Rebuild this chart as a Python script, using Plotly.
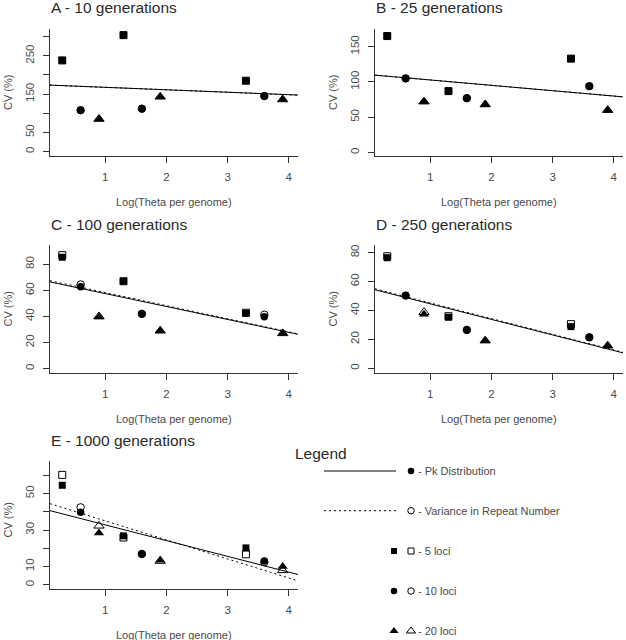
import numpy as np
import plotly.graph_objects as go

# ---------------- data ----------------
theta_5 = [0.3, 1.3, 3.3]
theta_10 = [0.6, 1.6, 3.6]
theta_20 = [0.9, 1.9, 3.9]

panel_titles = ["A - 10 generations", "B - 25 generations", "C - 100 generations",
                "D - 250 generations", "E - 1000 generations"]

# Pk distribution (filled markers), one row per panel A..E
pk_5 = [[238, 304, 185], [165, 87, 133], [85.4, 67, 42.3], [76.5, 35.3, 28.8], [54.5, 26.8, 20.2]]
pk_10 = [[108, 112, 145], [105, 77, 94], [62.8, 41.8, 39.7], [50.3, 26.5, 21.4], [39.8, 16.9, 13.0]]
pk_20 = [[85, 143, 136], [72, 68, 60], [39.5, 29, 27], [37.4, 19.1, 15.6], [28.4, 13.4, 10.0]]

# Variance in repeat number (open markers)
var_5 = [[238, 304, 185], [165, 87, 133], [87, 67, 42.8], [77.5, 36, 30.5], [60.2, 25.9, 16.7]]
var_10 = [[108, 112, 145], [105, 77, 94], [64.5, 42, 41.3], [50.3, 26.5, 21.4], [42.4, 16.9, 12.4]]
var_20 = [[85, 143, 136], [72, 68, 60], [40, 29, 27], [38.8, 19.1, 15.6], [32.3, 13.0, 7.9]]

x_ticks = [1, 2, 3, 4]
y_tickvals = [[0, 50, 100, 150, 200, 250, 300], [0, 50, 100, 150], [0, 20, 40, 60, 80],
              [0, 20, 40, 60, 80], [0, 10, 20, 30, 40, 50, 60]]
y_ticktext = [["0", "50", "", "150", "", "250", ""], ["0", "50", "100", "150"],
              ["0", "20", "40", "60", "80"], ["0", "20", "40", "60", "80"],
              ["0", "10", "", "30", "", "50", ""]]
y_ranges = [[-11.5, 320], [-5, 175], [-3.4, 94.8], [-3.3, 85.3], [-2.3, 67.8]]
x_range = [0.1, 4.15]

legend_labels = ["- Pk Distribution", "- Variance in Repeat Number", "- 5 loci", "- 10 loci", "- 20 loci"]

# ---------------- layout geometry (pixels) ----------------
W, H = 626, 640
panel_px = [((50, 298), (29, 156)), ((375, 623), (29, 156)),
            ((50, 298), (245, 373)), ((375, 623), (245, 373)),
            ((50, 298), (461, 589))]

FONT = "Liberation Sans, Arial, sans-serif"
TXT = "#4a4a4a"
AX = "#333333"

fig = go.Figure()
layout = dict(width=W, height=H, margin=dict(l=0, r=0, t=0, b=0),
              paper_bgcolor="white", plot_bgcolor="rgba(0,0,0,0)", showlegend=False,
              font=dict(family=FONT, color=TXT, size=11))
annotations = []


def px2paper(px, py):
    return px / W, 1 - py / H


def mk(symbol, filled, size):
    if filled:
        return dict(symbol=symbol, size=size, color="black", line=dict(width=0))
    return dict(symbol=symbol, size=size, color="white", line=dict(color="black", width=1))


for i in range(5):
    (x0, x1), (y0, y1) = panel_px[i]
    sfx = "" if i == 0 else str(i + 1)
    xa, ya = "x" + sfx, "y" + sfx
    layout["xaxis" + sfx] = dict(
        domain=[x0 / W, x1 / W], range=x_range, anchor=ya, showgrid=False, zeroline=False,
        showline=True, linecolor=AX, linewidth=1, ticks="outside", ticklen=6, tickcolor=AX,
        tickvals=x_ticks, ticktext=[str(t) for t in x_ticks], ticklabelstandoff=4,
        tickfont=dict(size=11.5, color=TXT, family=FONT), fixedrange=True)
    layout["yaxis" + sfx] = dict(
        domain=[1 - y1 / H, 1 - y0 / H], range=y_ranges[i], anchor=xa, showgrid=False,
        zeroline=False, showline=True, linecolor=AX, linewidth=1, ticks="outside", ticklen=6,
        tickcolor=AX, tickvals=y_tickvals[i], ticktext=y_ticktext[i], tickangle=-90,
        ticklabelstandoff=4, tickfont=dict(size=11.5, color=TXT, family=FONT), fixedrange=True)

    xs_all = np.array(theta_5 + theta_10 + theta_20)
    pk_all = np.array(pk_5[i] + pk_10[i] + pk_20[i])
    var_all = np.array(var_5[i] + var_10[i] + var_20[i])
    xl = np.array(x_range)

    # open markers (variance in repeat number)
    for xs, ys, sym, sz in [(theta_5, var_5[i], "square", 7), (theta_10, var_10[i], "circle", 7.5),
                            (theta_20, var_20[i], "triangle-up", 9)]:
        fig.add_trace(go.Scatter(x=xs, y=ys, mode="markers", marker=mk(sym, False, sz),
                                 xaxis=xa, yaxis=ya, hoverinfo="skip"))
    # regression lines
    b_var = np.polyfit(xs_all, var_all, 1)
    b_pk = np.polyfit(xs_all, pk_all, 1)
    fig.add_trace(go.Scatter(x=xl, y=np.polyval(b_var, xl), mode="lines",
                             line=dict(color="black", width=1, dash="2px,3px"),
                             xaxis=xa, yaxis=ya, hoverinfo="skip"))
    fig.add_trace(go.Scatter(x=xl, y=np.polyval(b_pk, xl), mode="lines",
                             line=dict(color="black", width=1),
                             xaxis=xa, yaxis=ya, hoverinfo="skip"))
    # filled markers (Pk distribution)
    for xs, ys, sym, sz in [(theta_5, pk_5[i], "square", 7), (theta_10, pk_10[i], "circle", 7.5),
                            (theta_20, pk_20[i], "triangle-up", 9)]:
        fig.add_trace(go.Scatter(x=xs, y=ys, mode="markers", marker=mk(sym, True, sz),
                                 xaxis=xa, yaxis=ya, hoverinfo="skip"))

    # panel title
    tx, ty = px2paper(x0 - 1, y0 - 21)
    annotations.append(dict(text=panel_titles[i], x=tx, y=ty, xref="paper", yref="paper",
                            xanchor="left", yanchor="middle", showarrow=False,
                            font=dict(size=15.5, color="#2a2a2a", family=FONT)))
    # axis titles
    cx, cy = px2paper((x0 + x1) / 2, y1 + 45.5)
    annotations.append(dict(text="Log(Theta per genome)", x=cx, y=cy, xref="paper", yref="paper",
                            xanchor="center", yanchor="middle", showarrow=False,
                            font=dict(size=11, color=TXT, family=FONT)))
    vx, vy = px2paper(x0 - 42.5, (y0 + y1) / 2 - (5 if i == 4 else 0))
    annotations.append(dict(text="CV (%)", x=vx, y=vy, xref="paper", yref="paper",
                            xanchor="center", yanchor="middle", textangle=-90, showarrow=False,
                            font=dict(size=11, color=TXT, family=FONT)))

# ---------------- custom legend ----------------
layout["xaxis6"] = dict(domain=[0, 1], range=[0, W], visible=False, anchor="y6", fixedrange=True)
layout["yaxis6"] = dict(domain=[0, 1], range=[H, 0], visible=False, anchor="x6", fixedrange=True)

leg_rows = [471, 510.7, 551, 591, 631]
line_x = [324, 396]
fill_x, open_x = 394, 411

fig.add_trace(go.Scatter(x=line_x, y=[leg_rows[0]] * 2, mode="lines",
                         line=dict(color="black", width=1), xaxis="x6", yaxis="y6", hoverinfo="skip"))
fig.add_trace(go.Scatter(x=line_x, y=[leg_rows[1]] * 2, mode="lines",
                         line=dict(color="black", width=1, dash="2px,3px"),
                         xaxis="x6", yaxis="y6", hoverinfo="skip"))
leg_open = [(open_x, leg_rows[1], "circle", 6.5), (open_x, leg_rows[2], "square", 6),
            (open_x, leg_rows[3], "circle", 6.5), (open_x, leg_rows[4], "triangle-up", 8)]
leg_fill = [(open_x, leg_rows[0], "circle", 6.5), (fill_x, leg_rows[2], "square", 6),
            (fill_x, leg_rows[3], "circle", 6.5), (fill_x, leg_rows[4], "triangle-up", 8)]
for (lx, ly, sym, sz) in leg_open:
    fig.add_trace(go.Scatter(x=[lx], y=[ly], mode="markers", marker=mk(sym, False, sz),
                             xaxis="x6", yaxis="y6", hoverinfo="skip"))
for (lx, ly, sym, sz) in leg_fill:
    fig.add_trace(go.Scatter(x=[lx], y=[ly], mode="markers", marker=mk(sym, True, sz),
                             xaxis="x6", yaxis="y6", hoverinfo="skip"))

lx_, ly_ = px2paper(293, 453.5)
annotations.append(dict(text="Legend", x=lx_, y=ly_, xref="paper", yref="paper",
                        xanchor="left", yanchor="middle", showarrow=False,
                        font=dict(size=15.5, color="#2a2a2a", family=FONT)))
for lab, ry in zip(legend_labels, leg_rows):
    ax_, ay_ = px2paper(416, ry)
    annotations.append(dict(text=lab, x=ax_, y=ay_, xref="paper", yref="paper",
                            xanchor="left", yanchor="middle", showarrow=False,
                            font=dict(size=11, color=TXT, family=FONT)))

layout["annotations"] = annotations
fig.update_layout(**layout)
fig.write_html("out.html", config={"displayModeBar": False},
               post_script="document.body.style.margin='0';")
